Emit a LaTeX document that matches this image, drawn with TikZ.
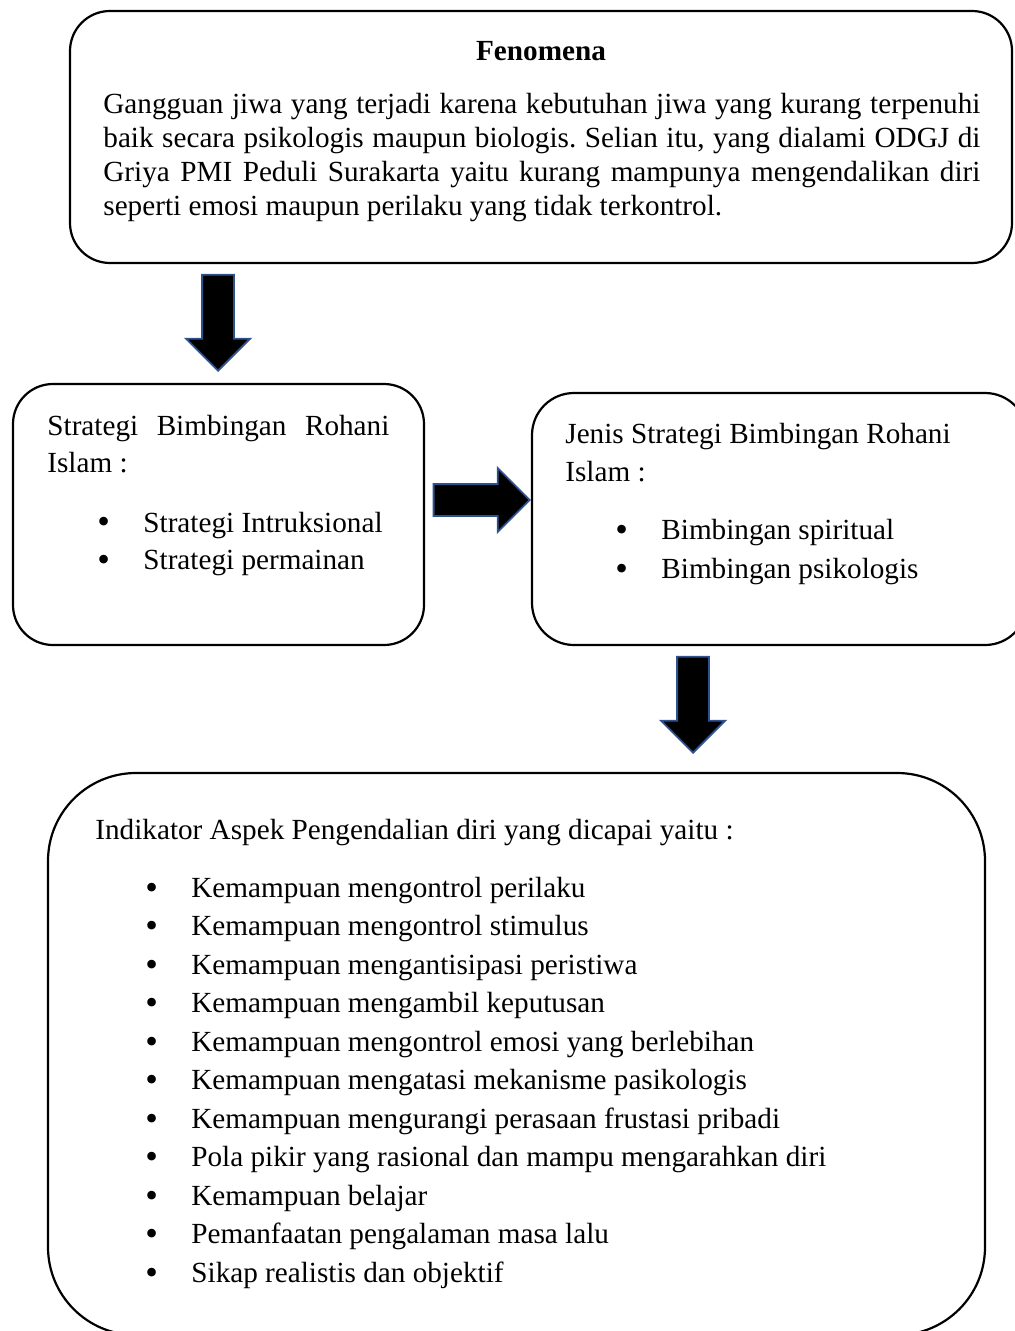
\documentclass[tikz,border=0pt]{standalone}
\usepackage{fontspec}
\setmainfont{Liberation Serif}
\usepackage{tikz}
\usetikzlibrary{shapes.arrows, positioning, calc}
\definecolor{arrowblue}{RGB}{47,82,143}
\newcommand{\bulitem}[1]{\hspace*{25pt}\makebox[23pt][l]{\raisebox{-1pt}{\fontsize{18pt}{18pt}\selectfont\textbullet}}#1}
\frenchspacing

\begin{document}
\begin{tikzpicture}[
  x=0.5pt, y=-0.5pt,
  box/.style={rectangle, rounded corners=20pt, draw=black, line width=1.1pt, inner sep=0pt},
  txt/.style={inner sep=0pt, anchor=base west},
  blockarr/.style={single arrow, draw=arrowblue, fill=black, line width=0.9pt,
                   inner xsep=0pt, inner ysep=7.5pt, minimum height=48pt,
                   single arrow head extend=8pt, single arrow tip angle=90, anchor=tip},
]
\useasboundingbox (0,0) rectangle (1015,1331);

% boxes
\node[box, minimum width=471pt, minimum height=126pt] (fen) at (541,137) {};
\node[box, minimum width=205.5pt, minimum height=130.5pt] (strat) at (218.5,514.5) {};
\node[box, rounded corners=21pt, minimum width=247.5pt, minimum height=126pt] (jenis) at (779.5,519) {};
\node[box, rounded corners=44pt, minimum width=468.5pt, minimum height=281pt] (indik) at (516.5,1054) {};

% texts
\node[txt, anchor=base, font=\fontsize{14.6pt}{17pt}\selectfont\bfseries] (fentitle) at (541,61) {Fenomena};
\node[txt, text width=438.5pt, align=justify, font=\fontsize{14.6pt}{17pt}\selectfont] (fentext) at (103,114)
  {Gangguan jiwa yang terjadi karena kebutuhan jiwa yang kurang terpenuhi\linebreak
   baik secara psikologis maupun biologis. Selian itu, yang dialami ODGJ di\linebreak
   Griya PMI Peduli Surakarta yaitu kurang mampunya mengendalikan diri\linebreak
   seperti emosi maupun perilaku yang tidak terkontrol.};

\node[txt, text width=171pt, align=justify, font=\fontsize{14.6pt}{18.5pt}\selectfont] (strattext) at (47,436)
  {Strategi Bimbingan Rohani Islam :\\[11pt]
   \bulitem{Strategi Intruksional}\\
   \bulitem{Strategi permainan}};

\node[txt, text width=215pt, align=flush left, font=\fontsize{14.6pt}{18.75pt}\selectfont] (jenistext) at (565,444)
  {Jenis Strategi Bimbingan Rohani\\
   Islam :\\[10.25pt]
   \bulitem{Bimbingan spiritual}\\[0.75pt]
   \bulitem{Bimbingan psikologis}};

\node[txt, text width=440pt, align=flush left, font=\fontsize{14.6pt}{19.25pt}\selectfont] (indiktext) at (95,839)
  {Indikator Aspek Pengendalian diri yang dicapai yaitu :\\[9.75pt]
   \bulitem{Kemampuan mengontrol perilaku}\\
   \bulitem{Kemampuan mengontrol stimulus}\\
   \bulitem{Kemampuan mengantisipasi peristiwa}\\
   \bulitem{Kemampuan mengambil keputusan}\\
   \bulitem{Kemampuan mengontrol emosi yang berlebihan}\\
   \bulitem{Kemampuan mengatasi mekanisme pasikologis}\\
   \bulitem{Kemampuan mengurangi perasaan frustasi pribadi}\\
   \bulitem{Pola pikir yang rasional dan mampu mengarahkan diri}\\
   \bulitem{Kemampuan belajar}\\
   \bulitem{Pemanfaatan pengalaman masa lalu}\\
   \bulitem{Sikap realistis dan objektif}};

% block arrows
\node[blockarr, rotate=-90] (arrfen) at (218,372) {};
\node[blockarr] (arrstrat) at (jenis.west |- 0,500) {};
\node[blockarr, rotate=-90] (arrjenis) at (693,754) {};

\end{tikzpicture}
\end{document}
